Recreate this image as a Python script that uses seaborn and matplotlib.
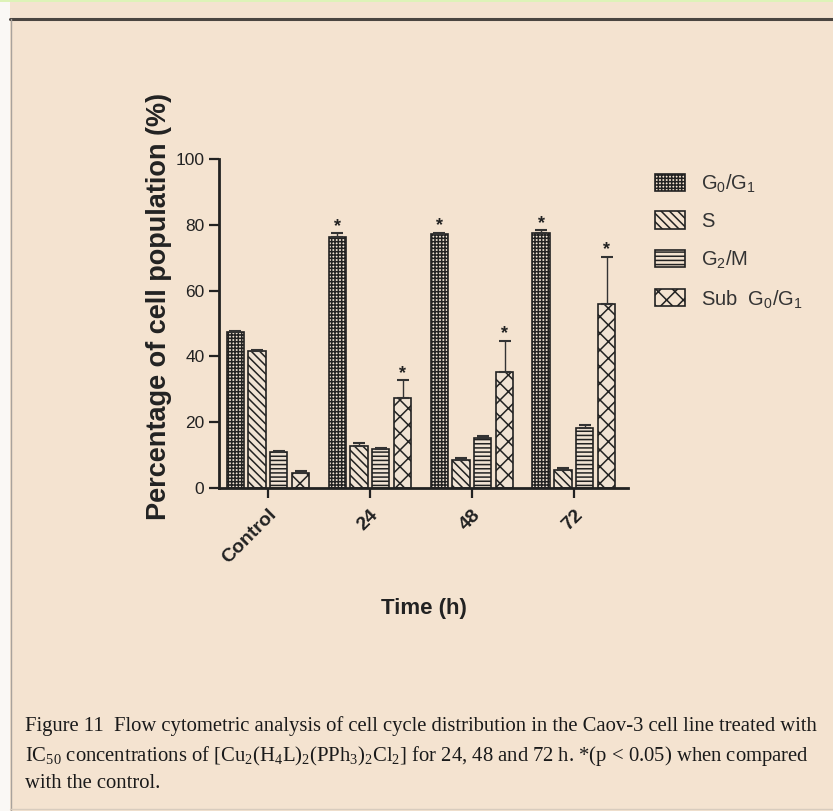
import matplotlib
matplotlib.use("Agg")
import matplotlib.pyplot as plt
import seaborn as sns
import pandas as pd
import numpy as np
from matplotlib.patches import Rectangle, Patch
from matplotlib.lines import Line2D

# ---------------- data ----------------
categories = ["Control", "24", "48", "72"]
phases = ["G0/G1", "S", "G2/M", "Sub G0/G1"]
g0g1 = [47.5, 76.2, 77.1, 77.6]
s_phase = [41.7, 12.8, 8.5, 5.5]
g2m = [11.0, 11.8, 15.3, 18.1]
sub_g0g1 = [4.5, 27.4, 35.2, 55.9]
err_g0g1 = [0.3, 1.2, 0.5, 0.8]
err_s = [0.3, 1.0, 0.5, 0.5]
err_g2m = [0.3, 0.5, 0.5, 1.0]
err_sub = [0.6, 5.4, 9.5, 14.4]
sig_g0g1 = [False, True, True, True]
sig_sub = [False, True, True, True]
yticks = [0, 20, 40, 60, 80, 100]

legend_labels = [r"G$_\mathsf{0}$/G$_\mathsf{1}$", "S",
                 r"G$_\mathsf{2}$/M", r"Sub  G$_\mathsf{0}$/G$_\mathsf{1}$"]
caption = ("Figure 11  Flow cytometric analysis of cell cycle distribution in the Caov-3 cell line treated with\n"
           r"IC$_{50}$ concentrations of [Cu$_2$(H$_4$L)$_2$(PPh$_3$)$_2$Cl$_2$] for 24, 48 and 72 h. *(p < 0.05) when compared" "\n"
           "with the control.")

values = [g0g1, s_phase, g2m, sub_g0g1]
errors = [err_g0g1, err_s, err_g2m, err_sub]
sigs = [sig_g0g1, [False]*4, [False]*4, sig_sub]

rows = []
for ph, vals in zip(phases, values):
    for c, v in zip(categories, vals):
        rows.append({"Time": c, "Phase": ph, "Value": v})
df = pd.DataFrame(rows)

BG = "#F4E3D0"
INK = "#222222"
sns.set_theme(style="ticks")
plt.rcParams["font.family"] = ["Liberation Sans", "DejaVu Sans"]
plt.rcParams["mathtext.fontset"] = "custom"
plt.rcParams["mathtext.rm"] = "Liberation Serif"
plt.rcParams["mathtext.it"] = "Liberation Serif:italic"
plt.rcParams["mathtext.sf"] = "Liberation Sans"
plt.rcParams["hatch.linewidth"] = 1.1
plt.rcParams["hatch.color"] = "#2a2a2a"

fig = plt.figure(figsize=(8.33, 8.11), dpi=100)
fig.patch.set_facecolor(BG)

# page decorations
W, H = 833, 811
def fx(px): return px / W
def fy(py): return 1 - py / H
fig.patches.append(Rectangle((0, 0), fx(10), 1, transform=fig.transFigure,
                             facecolor="#FAF8F5", edgecolor="none", zorder=0))
fig.patches.append(Rectangle((0, fy(2)), 1, fy(0) - fy(2), transform=fig.transFigure,
                             facecolor="#DDF3B8", edgecolor="none", zorder=1))
fig.lines.append(Line2D([fx(10), 1], [fy(18.5), fy(18.5)], transform=fig.transFigure,
                        color="#4A4540", lw=2.2))
fig.lines.append(Line2D([fx(10.5), fx(10.5)], [0, fy(18.5)], transform=fig.transFigure,
                        color="#A8A29C", lw=1.0))
fig.lines.append(Line2D([fx(10), 1], [fy(809), fy(809)], transform=fig.transFigure,
                        color="#D8CCBE", lw=1.0))

ax = fig.add_axes([fx(219), fy(488), fx(628) - fx(219), fy(159) - fy(488)])
ax.set_facecolor(BG)

hatches = ["+++++", "\\\\\\\\", "----", "xx"]
palette = {p: BG for p in phases}
sns.barplot(data=df, x="Time", y="Value", hue="Phase", order=categories,
            hue_order=phases, palette=palette, width=0.86, gap=0.22,
            errorbar=None, edgecolor=INK, linewidth=1.2, ax=ax, legend=False)

bar_containers = list(ax.containers)
for ci, cont in enumerate(bar_containers):
    for bi, bar in enumerate(cont.patches):
        bar.set_hatch(hatches[ci])
        bar.set_edgecolor(INK)
        xc = bar.get_x() + bar.get_width() / 2
        h = bar.get_height()
        e = errors[ci][bi]
        ax.errorbar([xc], [h], yerr=[[0], [e]], fmt="none", ecolor="#333333",
                    elinewidth=1.0, capsize=4, capthick=1.5, zorder=5)
        if sigs[ci][bi]:
            ax.text(xc, h + e - 0.5, "*", ha="center", va="bottom",
                    fontsize=13, color=INK, fontweight="bold")

ax.set_ylim(0, 100)
ax.set_xlim(-0.48, 3.53)
ax.set_yticks(yticks)
ax.set_yticklabels([str(t) for t in yticks], fontsize=12.5, color=INK)
ax.set_xticks(range(len(categories)))
ax.set_xticklabels(categories, rotation=45, ha="right", rotation_mode="anchor",
                   fontsize=14, fontweight="bold", color=INK)
ax.tick_params(axis="both", direction="out", length=7, width=1.6, color=INK)
ax.tick_params(axis="x", pad=6)
for sp in ["top", "right"]:
    ax.spines[sp].set_visible(False)
for sp in ["left", "bottom"]:
    ax.spines[sp].set_linewidth(2.0)
    ax.spines[sp].set_color(INK)

ax.set_xlabel("Time (h)", fontsize=16, fontweight="bold", color=INK, labelpad=22)
ax.set_ylabel("Percentage of cell population (%)", fontsize=19.5, fontweight="bold",
              color=INK)
ax.yaxis.set_label_coords(-0.115, 0.553)

handles = [Patch(facecolor=BG, edgecolor=INK, hatch=h, linewidth=1.2) for h in hatches]
leg = fig.legend(handles, legend_labels, loc="upper left",
                 bbox_to_anchor=(fx(637), fy(154)), frameon=False,
                 fontsize=14.5, handlelength=1.5, handleheight=0.95,
                 labelspacing=0.86, handletextpad=0.8, labelcolor="#333333")

fig.text(fx(25), fy(755), caption, ha="left", va="center", fontsize=14.85,
         family="Liberation Serif", color="#1a1a1a", linespacing=1.45)

fig.savefig("out.png", dpi=100, facecolor=fig.get_facecolor())
